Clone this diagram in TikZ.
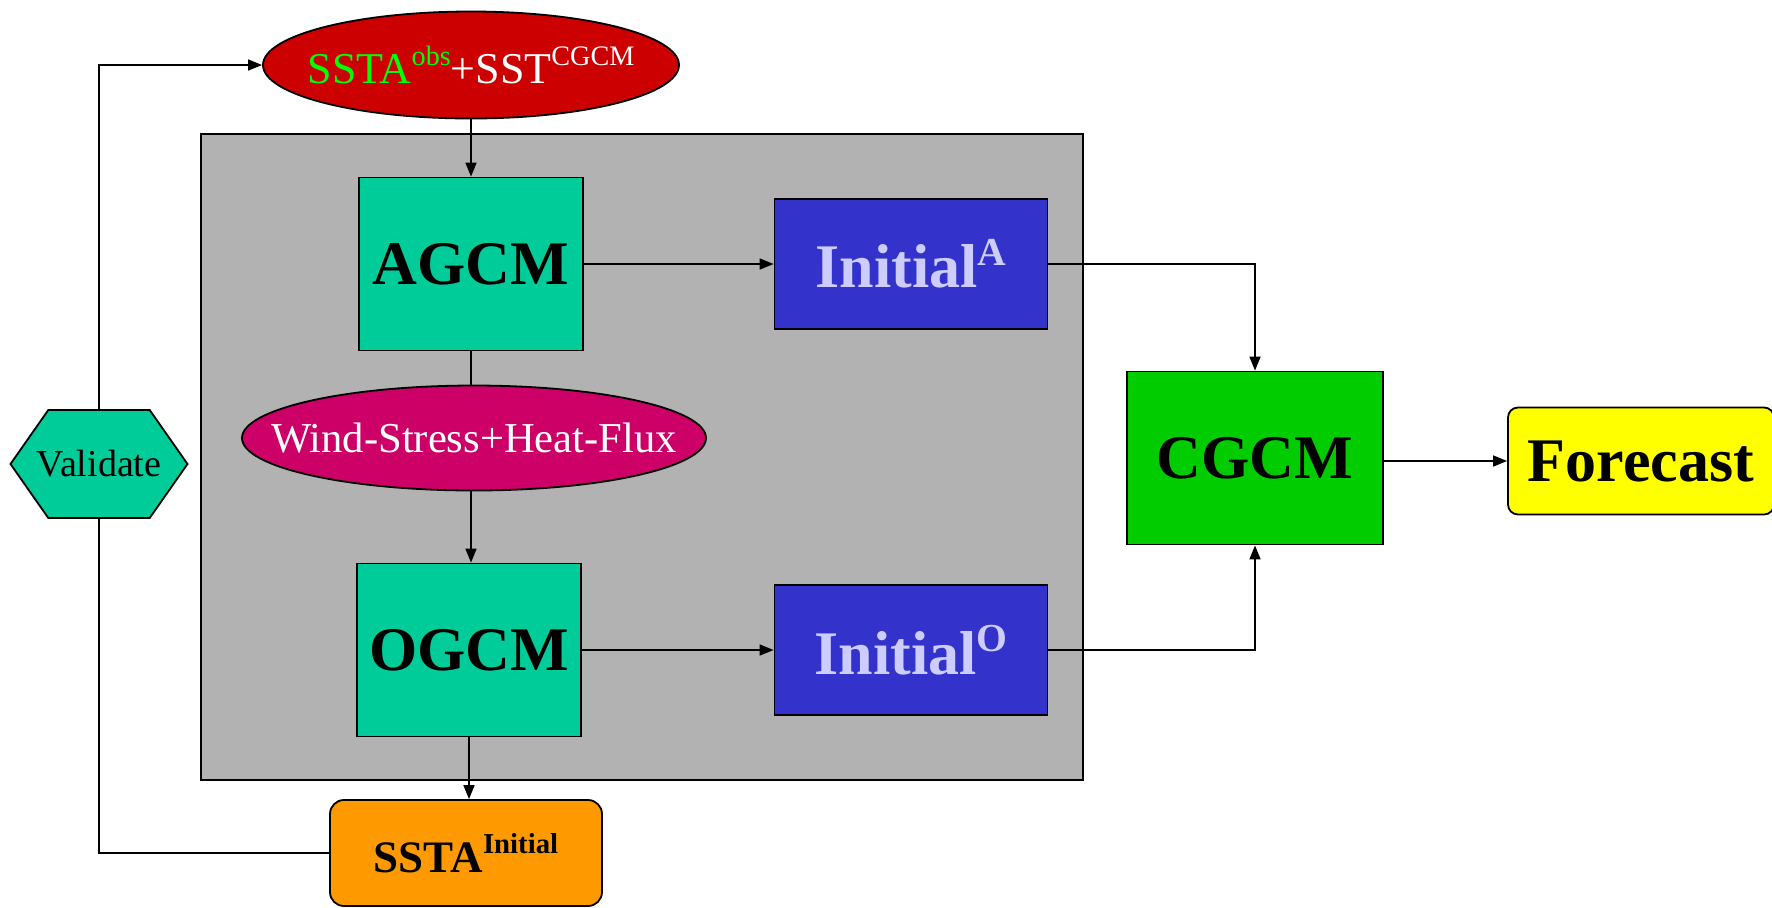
\documentclass[tikz,border=0pt]{standalone}
\usepackage{fontspec}
\setmainfont{Liberation Serif}
\usetikzlibrary{arrows.meta, shapes.geometric, shapes.symbols}
\definecolor{panelGray}{HTML}{B2B2B2}
\definecolor{obsRed}{HTML}{CC0000}
\definecolor{obsGreen}{HTML}{00FF00}
\definecolor{gcmTeal}{HTML}{00CC99}
\definecolor{initBlue}{HTML}{3333CC}
\definecolor{initText}{HTML}{CCCCFF}
\definecolor{fluxMagenta}{HTML}{CC0066}
\definecolor{cgcmGreen}{HTML}{00CC00}
\definecolor{fcstYellow}{HTML}{FFFF00}
\definecolor{sstaOrange}{HTML}{FF9900}
\newcommand{\hi}[2][0.40em]{\raisebox{#1}{\scalebox{0.64}{#2}}}

\begin{document}
\begin{tikzpicture}[
  x=0.5pt, y=-0.5pt,
  base/.style={draw, line width=0.9pt, inner sep=0pt, align=center},
  big/.style={font=\fontsize{31}{36}\selectfont\bfseries},
  model/.style={base, big, rectangle, fill=gcmTeal, minimum width=112pt, minimum height=86.5pt},
  init/.style={base, big, rectangle, fill=initBlue, text=initText, minimum width=136.5pt, minimum height=65pt},
  field/.style={base, ellipse, text=white},
  flow/.style={-{Triangle[length=7pt,width=5.5pt]}, line width=0.8pt},
  link/.style={line width=0.8pt}
]
  \useasboundingbox (0,0) rectangle (1772,907);

  %% --- blocco accoppiato (sfondo grigio) ---
  \node[base, fill=panelGray, minimum width=441pt, minimum height=323pt] (coupler) at (642,457) {};

  %% --- nodi ---
  \node[field, fill=obsRed, minimum width=208pt, minimum height=53.5pt,
        font=\fontsize{22}{26}\selectfont] (obs) at (471,65)
    {\makebox[0pt]{\textcolor{obsGreen}{SSTA\hi{obs}}+SST\hi{CGCM}}};
  \node[model] (agcm) at (471,264) {AGCM};
  \node[init]  (inita) at (911,264) {Initial\hi[0.36em]{A}};
  \node[field, fill=fluxMagenta, minimum width=232pt, minimum height=52.5pt,
        font=\fontsize{21.3}{25}\selectfont] (flux) at (474,438)
    {\makebox[0pt]{Wind-Stress+Heat-Flux}};
  \node[model] (ogcm) at (469,650) {OGCM};
  \node[init]  (inito) at (911,650) {Initial\hi[0.36em]{O}};
  \node[base, big, rectangle, fill=cgcmGreen, minimum width=128pt, minimum height=86.5pt] (cgcm) at (1255,458) {CGCM};
  \node[base, big, rectangle, rounded corners=5pt, fill=fcstYellow,
        minimum width=133pt, minimum height=53.5pt] (fcst) at (1641,461) {Forecast};
  \node[base, rectangle, rounded corners=7pt, fill=sstaOrange, minimum width=136pt, minimum height=53pt,
        font=\fontsize{22.5}{26}\selectfont\bfseries] (ssta) at (466,853) {SSTA\hi[0.42em]{Initial}};
  \node[base, signal, signal to=west and east, signal pointer angle=110, fill=gcmTeal,
        minimum width=88.5pt, minimum height=54pt, font=\fontsize{19}{22}\selectfont] (val) at (99,464)
    {\makebox[0pt]{Validate}};

  %% --- connettori ---
  \draw[flow] (obs.south -| agcm.north) -- (agcm.north);
  \draw[link] (agcm.south) -- (agcm.south |- flux.north);
  \draw[flow] (flux.south -| agcm.south) -- (ogcm.north -| agcm.south);
  \draw[flow] (ogcm.south) -- (ogcm.south |- ssta.north);
  \draw[flow] (agcm) -- (inita);
  \draw[flow] (ogcm) -- (inito);
  \draw[flow] (inita.east) -| (cgcm.north);
  \draw[flow] (inito.east) -| (cgcm.south);
  \draw[flow] (cgcm.east |- fcst.west) -- (fcst.west);
  \draw[flow] (val.north) |- (obs.west);
  \draw[link] (ssta.west) -| (val.south);
\end{tikzpicture}
\end{document}
